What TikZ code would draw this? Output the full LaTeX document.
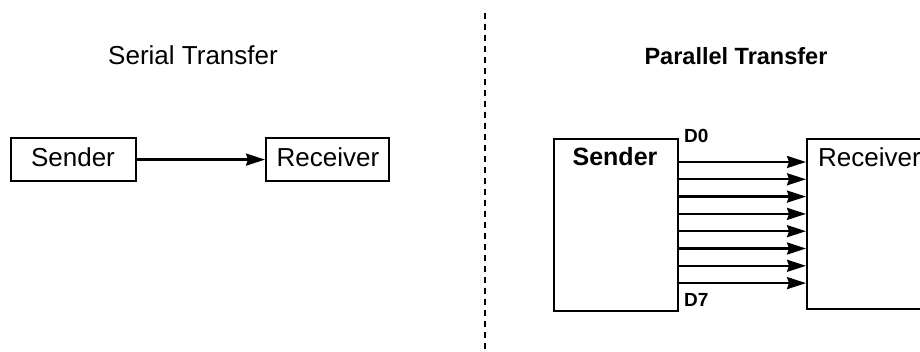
\documentclass[tikz,border=0pt]{standalone}
\usepackage{fontspec}
\setmainfont{Liberation Sans}
\usetikzlibrary{arrows.meta}
\begin{document}
\begin{tikzpicture}[x=1pt,y=-1pt,
  box/.style={draw=black, line width=2.2pt, inner sep=0pt},
  label26/.style={font=\fontsize{26}{30}\selectfont, inner sep=0pt, anchor=base},
  boldlabel/.style={font=\fontsize{25}{30}\selectfont\bfseries, inner sep=0pt, anchor=base},
  title/.style={font=\fontsize{26}{30}\selectfont, inner sep=0pt, anchor=base},
  pin/.style={font=\fontsize{19}{22}\selectfont\bfseries, inner sep=0pt, anchor=base west},
  arr/.style={line width=2.3pt, -{Stealth[length=19pt,width=12pt,inset=2pt]}}]
\useasboundingbox (0,0) rectangle (920,352);
\clip (0,0) rectangle (920,352);

% divider between the two halves
\draw[line width=2.4pt, dash pattern=on 6pt off 5pt] (485,13) coordinate (dtop) -- (485,352) coordinate (dbot);

% serial transfer
\node[title] (stitle) at (193,65) {Serial Transfer};
\node[box, minimum width=125pt, minimum height=43pt, anchor=north west] (ssend) at (10,137) {};
\node[label26] (ssendtxt) at (73,167) {Sender};
\node[box, minimum width=123pt, minimum height=43pt, anchor=north west] (srecv) at (265,137) {};
\node[label26] (srecvtxt) at (328,167) {Receiver};
\draw[arr] (ssend.east) -- (srecv.west);

% parallel transfer
\node[title, font=\fontsize{23.5}{30}\selectfont\bfseries] (ptitle) at (736,65) {Parallel Transfer};
\node[box, minimum width=124pt, minimum height=172pt, anchor=north west] (psend) at (553,138) {};
\node[boldlabel] (psendtxt) at (615,166) {Sender};
\node[box, minimum width=140pt, minimum height=170pt, anchor=north west] (precv) at (806,138) {};
\node[label26, anchor=base west] (precvtxt) at (818,167) {Receiver};
\node[pin] (d0) at (684,143) {D0};
\node[pin] (d7) at (684,307) {D7};
\foreach \i in {0,...,7} {
  \draw[arr] (psend.east |- 0,{162+17.3*\i}) -- (precv.west |- 0,{162+17.3*\i});
}
\end{tikzpicture}
\end{document}
